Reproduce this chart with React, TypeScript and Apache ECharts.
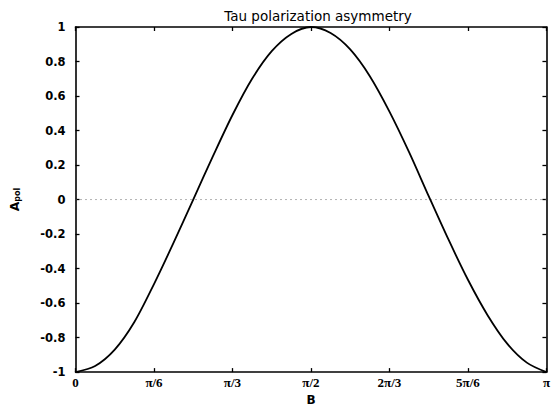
import React, { useEffect, useRef } from "react";
import * as echarts from "echarts";

// B in units of pi/6
const bValues = [0, 0.25, 0.5, 0.75, 1.0, 1.25, 1.5, 1.75, 2.0, 2.25, 2.5, 2.75, 3.0, 3.25, 3.5, 3.75, 4.0, 4.25, 4.5, 4.75, 5.0, 5.25, 5.5, 5.75, 6.0];
const aPol = [-1.0, -0.965, -0.87, -0.71, -0.49, -0.25, 0.0, 0.25, 0.49, 0.7, 0.86, 0.96, 1.0, 0.965, 0.87, 0.715, 0.51, 0.275, 0.02, -0.23, -0.465, -0.67, -0.835, -0.945, -1.0];
const xTickLabels = ["0", "π/6", "π/3", "π/2", "2π/3", "5π/6", "π"];
const zeroLine = [[0, 0], [6, 0]];
const titleText = "Tau polarization asymmetry";

export default function App() {
  const ref = useRef<HTMLDivElement>(null);
  useEffect(() => {
    if (!ref.current) return;
    const chart = echarts.init(ref.current, null, { renderer: "svg" });
    const axisLine = { show: true, onZero: false, lineStyle: { color: "#000", width: 1.6 } };
    const tick = { show: true, inside: true, length: 4, lineStyle: { color: "#000", width: 1.3 } };
    const labelFont = { fontFamily: "DejaVu Sans", fontWeight: "bold" as const, fontSize: 11.5, color: "#000" };
    chart.setOption({
      animation: false,
      backgroundColor: "#fff",
      title: {
        text: titleText,
        left: 313,
        textAlign: "center",
        top: 4,
        textStyle: { fontFamily: "DejaVu Sans", fontWeight: "normal", fontSize: 13.5, color: "#000" },
      },
      grid: { left: 72, top: 27, width: 482, height: 352 },
      xAxis: [
        {
          type: "value",
          position: "bottom",
          min: 0,
          max: 6,
          interval: 1,
          axisLine,
          axisTick: tick,
          splitLine: { show: false },
          axisLabel: {
            ...labelFont,
            fontFamily: "Liberation Serif",
            fontSize: 13,
            margin: 4,
            formatter: (v: number) => xTickLabels[Math.round(v)] ?? "",
          },
          name: "B",
          nameLocation: "middle",
          nameGap: 18,
          nameTextStyle: { ...labelFont, fontSize: 12 },
        },
        {
          type: "value",
          position: "top",
          min: 0,
          max: 6,
          interval: 1,
          axisLine,
          axisTick: tick,
          splitLine: { show: false },
          axisLabel: { show: false },
        },
      ],
      yAxis: [
        {
          type: "value",
          position: "left",
          min: -1,
          max: 1,
          interval: 0.2,
          axisLine,
          axisTick: tick,
          splitLine: { show: false },
          axisLabel: {
            ...labelFont,
            margin: 10,
            formatter: (v: number) => String(+v.toFixed(1)),
          },
          name: "{a|A}{s|pol}",
          nameLocation: "middle",
          nameGap: 54,
          nameRotate: 90,
          nameTextStyle: {
            rich: {
              a: { ...labelFont, fontSize: 12.5 },
              s: { ...labelFont, fontSize: 8, padding: [6, 0, 0, 0] },
            },
          },
        },
        {
          type: "value",
          position: "right",
          min: -1,
          max: 1,
          interval: 0.2,
          axisLine,
          axisTick: tick,
          splitLine: { show: false },
          axisLabel: { show: false },
        },
      ],
      series: [
        {
          type: "line",
          data: zeroLine,
          symbol: "none",
          silent: true,
          lineStyle: { color: "#666", width: 1, type: [1, 4] },
        },
        {
          type: "line",
          data: bValues.map((b, i) => [b, aPol[i]]),
          symbol: "none",
          smooth: 0.3,
          lineStyle: { color: "#000", width: 1.8 },
        },
      ],
    });
    return () => chart.dispose();
  }, []);
  return <div ref={ref} style={{ position: "fixed", left: 0, top: 0, width: 553, height: 411 }} />;
}
